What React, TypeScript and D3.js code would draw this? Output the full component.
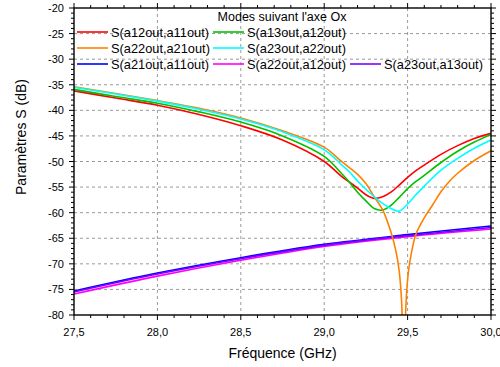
import React from "react";
import * as d3 from "d3";

const freqMain = [27.5, 27.75, 28.0, 28.25, 28.5, 28.75, 29.0, 29.1, 29.15, 29.2, 29.25, 29.3, 29.35, 29.4, 29.45, 29.5, 29.55, 29.6, 29.7, 29.8, 29.9, 30.0];
const s12_11 = [-36.2, -37.6, -39.0, -40.8, -43.0, -45.8, -50.0, -52.8, -54.0, -55.2, -56.5, -57.2, -56.9, -56.0, -54.6, -53.1, -51.8, -50.7, -48.6, -46.9, -45.5, -44.5];
const s13_12 = [-35.9, -37.3, -38.6, -40.3, -42.3, -45.0, -49.0, -52.2, -54.0, -56.0, -57.7, -59.2, -59.5, -58.6, -57.0, -55.3, -53.9, -52.7, -50.2, -48.0, -46.2, -44.7];
const s23_22 = [-35.5, -36.8, -38.2, -39.8, -41.7, -44.2, -47.7, -50.5, -52.0, -53.8, -55.4, -56.9, -58.2, -59.2, -59.7, -58.3, -56.5, -54.8, -51.7, -49.4, -47.4, -45.8];

const freqOrange = [27.5, 27.75, 28.0, 28.25, 28.5, 28.75, 29.0, 29.1, 29.2, 29.25, 29.3, 29.35, 29.4, 29.43, 29.45, 29.465, 29.477, 29.49, 29.505, 29.525, 29.55, 29.6, 29.65, 29.7, 29.75, 29.8, 29.9, 30.0];
const s22_21 = [-35.4, -36.7, -38.1, -39.6, -41.5, -44.0, -47.2, -49.9, -52.5, -54.3, -56.9, -59.4, -63.8, -67.5, -71.5, -78, -95, -78, -71.5, -67.5, -64.2, -61.0, -58.5, -55.9, -53.9, -52.3, -49.8, -47.9];

const freqLow = [27.5, 28.0, 28.5, 29.0, 29.5, 30.0];
const s21_11 = [-75.3, -71.8, -68.8, -66.2, -64.3, -62.6];
const s22_12 = [-75.9, -72.4, -69.3, -66.6, -64.7, -63.2];
const s23_13 = [-75.5, -72.0, -69.0, -66.4, -64.5, -62.9];

const xTicks = [27.5, 28.0, 28.5, 29.0, 29.5, 30.0];
const yTicks = [-20, -25, -30, -35, -40, -45, -50, -55, -60, -65, -70, -75, -80];

const legendTitle = "Modes suivant l'axe Ox";
const xLabel = "Fréquence (GHz)";
const yLabel = "Paramètres S (dB)";

const series = [
  { name: "S(a21out,a11out)", f: freqLow, v: s21_11, color: "#0000ff", col: 0, row: 2 },
  { name: "S(a22out,a12out)", f: freqLow, v: s22_12, color: "#ff00ff", col: 1, row: 2 },
  { name: "S(a23out,a13out)", f: freqLow, v: s23_13, color: "#8000ff", col: 2, row: 2 },
  { name: "S(a12out,a11out)", f: freqMain, v: s12_11, color: "#ff0000", col: 0, row: 0 },
  { name: "S(a13out,a12out)", f: freqMain, v: s13_12, color: "#00c000", col: 1, row: 0 },
  { name: "S(a22out,a21out)", f: freqOrange, v: s22_21, color: "#ff8000", col: 0, row: 1 },
  { name: "S(a23out,a22out)", f: freqMain, v: s23_22, color: "#00ffff", col: 1, row: 1 },
];

const W = 500, H = 367;
const L = 74, R = 491, T = 8, B = 315;

export default function App() {
  const x = d3.scaleLinear().domain([27.5, 30]).range([L, R]);
  const y = d3.scaleLinear().domain([-80, -20]).range([B, T]);
  const fmtX = (d: number) => d3.format(".1f")(d).replace(".", ",");
  const minorX = d3.range(27.5, 30.0001, 0.1);
  const minorY = d3.range(-80, -19.999, 1);
  const font = "'Liberation Sans', Arial, sans-serif";
  const legendColsLine = [77, 213, 350];
  const legendRowsY = [32, 48, 64];

  return (
    <svg width={W} height={H} style={{ position: "absolute", left: 0, top: 0, background: "#fff" }} fontFamily={font}>
      <defs>
        <clipPath id="plotclip">
          <rect x={L} y={T} width={R - L} height={B - T} />
        </clipPath>
      </defs>
      <rect x={0} y={0} width={W} height={H} fill="#fff" />
      {xTicks.slice(1, -1).map((t) => (
        <line key={"gx" + t} x1={x(t)} x2={x(t)} y1={T} y2={B} stroke="#9a9a9a" strokeWidth={1} strokeDasharray="3,3" />
      ))}
      {yTicks.slice(1, -1).map((t) => (
        <line key={"gy" + t} x1={L} x2={R} y1={y(t)} y2={y(t)} stroke="#9a9a9a" strokeWidth={1} strokeDasharray="3,3" />
      ))}
      <g clipPath="url(#plotclip)">
        {series.map((s) => {
          const pts = s.f.map((f, i) => [f, s.v[i]] as [number, number]);
          const line = d3
            .line<[number, number]>()
            .x((d) => x(d[0]))
            .y((d) => y(d[1]))
            .curve(d3.curveCatmullRom.alpha(0.5));
          return <path key={s.name} d={line(pts) || ""} fill="none" stroke={s.color} strokeWidth={1.6} />;
        })}
      </g>
      <rect x={L} y={T} width={R - L} height={B - T} fill="none" stroke="#000" strokeWidth={1.4} />
      {minorX.map((t, i) => {
        const major = i % 5 === 0;
        const len = major ? 5 : 3;
        return (
          <g key={"mx" + i}>
            <line x1={x(t)} x2={x(t)} y1={B} y2={B + len} stroke="#000" strokeWidth={1} />
            <line x1={x(t)} x2={x(t)} y1={T} y2={T - len} stroke="#000" strokeWidth={1} />
          </g>
        );
      })}
      {minorY.map((t, i) => {
        const major = i % 5 === 0;
        const len = major ? 5 : 3;
        return (
          <g key={"my" + i}>
            <line x1={L} x2={L - len} y1={y(t)} y2={y(t)} stroke="#000" strokeWidth={1} />
            <line x1={R} x2={R + len} y1={y(t)} y2={y(t)} stroke="#000" strokeWidth={1} />
          </g>
        );
      })}
      {xTicks.map((t) => (
        <text key={"tx" + t} x={x(t)} y={336} fontSize={11} textAnchor="middle" fill="#000">
          {fmtX(t)}
        </text>
      ))}
      {yTicks.map((t) => (
        <text key={"ty" + t} x={64} y={y(t) + 4} fontSize={11} textAnchor="end" fill="#000">
          {String(t)}
        </text>
      ))}
      <text x={x(28.75)} y={358} fontSize={14} textAnchor="middle" fill="#000">
        {xLabel}
      </text>
      <text transform={`translate(26,137) rotate(-90)`} fontSize={14} textAnchor="middle" fill="#000">
        {yLabel}
      </text>
      <text x={282} y={21} fontSize={12.5} textAnchor="middle" fill="#000">
        {legendTitle}
      </text>
      {series.map((s) => {
        const lx = legendColsLine[s.col];
        const ly = legendRowsY[s.row];
        return (
          <g key={"lg" + s.name}>
            <line x1={lx} x2={lx + 31} y1={ly} y2={ly} stroke={s.color} strokeWidth={1.6} />
            <text x={lx + 34} y={ly + 4.5} fontSize={12.8} fill="#000">
              {s.name}
            </text>
          </g>
        );
      })}
    </svg>
  );
}
